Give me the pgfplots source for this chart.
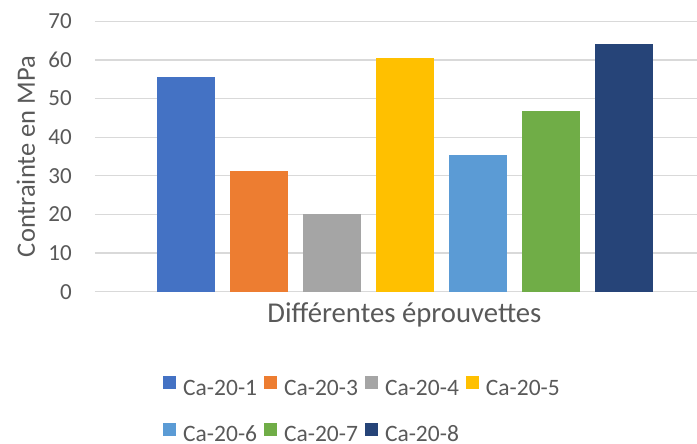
\documentclass[border=0pt]{standalone}
\usepackage{fontspec}
\setmainfont{Carlito}
\usepackage{pgfplots}
\pgfplotsset{compat=1.18}
\definecolor{c1}{HTML}{4472C4}
\definecolor{c2}{HTML}{ED7D31}
\definecolor{c3}{HTML}{A5A5A5}
\definecolor{c4}{HTML}{FFC000}
\definecolor{c5}{HTML}{5B9BD5}
\definecolor{c6}{HTML}{70AD47}
\definecolor{c7}{HTML}{264478}
\definecolor{txt}{HTML}{595959}
\definecolor{gridc}{HTML}{D9D9D9}
\begin{document}
\begin{tikzpicture}[x=1pt,y=1pt]
\path[use as bounding box] (0,0) rectangle (697,444);
\begin{axis}[
  at={(95pt,152.3pt)}, anchor=south west,
  scale only axis, width=602pt, height=270.4pt,
  xmin=-0.247, xmax=8, ymin=0, ymax=70,
  ytick={0,10,...,70}, xtick=\empty,
  ymajorgrids, major grid style={gridc, line width=1.3pt},
  axis line style={draw=none},
  major tick length=0pt,
  /pgf/number format/assume math mode=true,
  yticklabel style={font=\fontsize{23}{27}\selectfont, text=txt, inner sep=0pt, xshift=-23pt},
  ybar, bar width=58pt, bar shift=0pt,
  ylabel={Contrainte en MPa},
  ylabel style={font=\fontsize{26.5}{30}\selectfont, text=txt, at={(axis description cs:-0.0997,0.5)}, anchor=base, rotate=0},
  xlabel={Différentes éprouvettes},
  xlabel style={font=\fontsize{28.7}{32}\selectfont, text=txt, at={(axis description cs:0.514,0)}, anchor=base, yshift=-31.3pt},
  legend columns=4,
  legend style={at={(axis description cs:0.11296,-0.3118)}, anchor=north west, draw=none, fill=none, inner sep=0pt, column sep=7pt, row sep=22.3pt, font=\fontsize{23.5}{28}\selectfont, text=txt, nodes={inner sep=0pt, text height=17pt, text depth=5pt}},
  legend image code/.code={\fill[#1] (0pt,0pt) rectangle (13pt,13pt);},
]
\addplot[fill=c1, draw=none] coordinates {(1,55.6)};
\addplot[fill=c2, draw=none] coordinates {(2,31.2)};
\addplot[fill=c3, draw=none] coordinates {(3,20.1)};
\addplot[fill=c4, draw=none] coordinates {(4,60.5)};
\addplot[fill=c5, draw=none] coordinates {(5,35.4)};
\addplot[fill=c6, draw=none] coordinates {(6,46.8)};
\addplot[fill=c7, draw=none] coordinates {(7,64.1)};
\legend{Ca-20-1,Ca-20-3,Ca-20-4,Ca-20-5,Ca-20-6,Ca-20-7,Ca-20-8}
\end{axis}
\end{tikzpicture}
\end{document}
